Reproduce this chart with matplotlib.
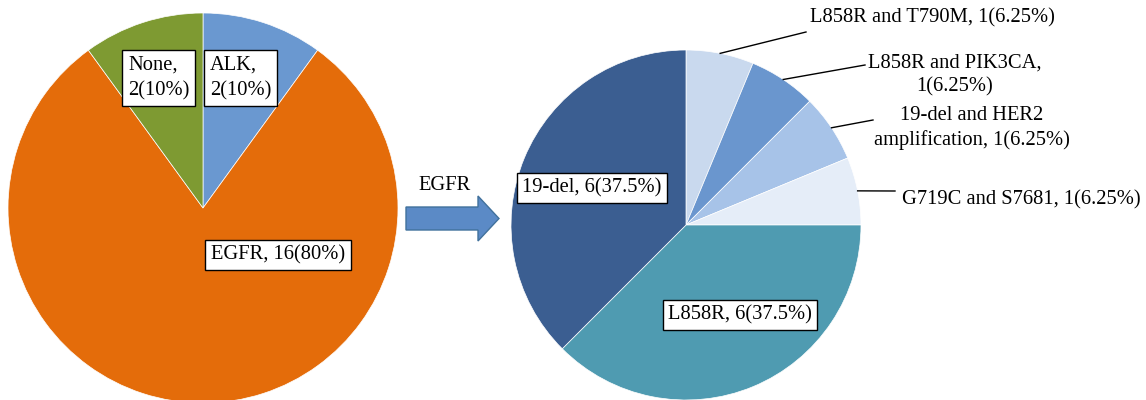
import matplotlib
matplotlib.use("Agg")
import numpy as np
import matplotlib.pyplot as plt
from matplotlib.patches import FancyArrow

# Overall mutation split
main_labels = ["ALK", "EGFR", "None"]
main_counts = [2, 16, 2]
main_colors = ["#6A98D0", "#E46C0A", "#7E9A32"]

# Breakdown of the EGFR group
egfr_labels = ["L858R and T790M", "L858R and PIK3CA", "19-del and HER2\namplification",
               "G719C and S7681", "L858R", "19-del"]
egfr_counts = [1, 1, 1, 1, 6, 6]
egfr_colors = ["#C9D9EE", "#6A96CE", "#A7C3E8", "#E5EDF8", "#4F9BB1", "#3B5E91"]

W, H = 1146, 400
FONT = "Liberation Serif"
FS = 14.8

fig = plt.figure(figsize=(W / 100, H / 100), dpi=100)
ax = fig.add_axes([0, 0, 1, 1])


def py(y):
    """Convert a top-down pixel row into the bottom-up axis coordinate."""
    return H - y


def pct(n, total):
    p = 100.0 * n / total
    return f"{p:g}%"


def draw_pie(counts, colors, center, radius):
    wedges, _ = ax.pie(counts, colors=colors, startangle=90, counterclock=False,
                       center=center, radius=radius,
                       wedgeprops=dict(edgecolor="white", linewidth=0.5))
    return wedges


box = dict(boxstyle="square,pad=0.27", facecolor="white", edgecolor="black", linewidth=1.0)

# Left pie
lc, lr = (203, py(208)), 195
draw_pie(main_counts, main_colors, lc, lr)
main_total = sum(main_counts)
main_layout = [  # (x, y, text template)
    (210, 78, "{name},\n{n}({p})"),
    (278, 255, "{name}, {n}({p})"),
    (128, 78, "{name},\n{n}({p})"),
]
for (name, n), (x, y, tmpl) in zip(zip(main_labels, main_counts), main_layout):
    txt = tmpl.format(name=name, n=n, p=pct(n, main_total))
    ha = "left" if "\n" in txt else "center"
    ax.text(x, py(y), txt, ha=ha, va="center", fontsize=FS, family=FONT,
            bbox=box, linespacing=1.5, zorder=5)

# Arrow between the pies
ax.add_patch(FancyArrow(406, py(218.5), 93, 0, width=23, head_width=45, head_length=21,
                        length_includes_head=True, facecolor="#5B8AC6",
                        edgecolor="#41719C", linewidth=1.0, zorder=4))
ax.text(445, py(185), "EGFR", ha="center", va="center", fontsize=FS, family=FONT)

# Right pie
rc, rr = (686, py(225)), 175
wedges = draw_pie(egfr_counts, egfr_colors, rc, rr)
egfr_total = sum(egfr_counts)

# Small slices: labels outside with leader lines
outer_layout = [  # (line end x, line end y, text x, text y, ha)
    (806, 32, 810, 18, "left"),
    (865, 65, 955, 75, "center"),
    (873, 120, 972, 128, "center"),
    (895, 191, 902, 200, "left"),
]
for i, (ex, ey, tx, ty, ha) in enumerate(outer_layout):
    w = wedges[i]
    mid = np.deg2rad((w.theta1 + w.theta2) / 2)
    sx = rc[0] + rr * np.cos(mid)
    sy = rc[1] + rr * np.sin(mid)
    ax.plot([sx, ex], [sy, py(ey)], color="black", linewidth=1.0, zorder=3)
    name = egfr_labels[i]
    n = egfr_counts[i]
    if i == 1:
        txt = f"{name},\n{n}({pct(n, egfr_total)})"
    else:
        txt = f"{name}, {n}({pct(n, egfr_total)})"
    ax.text(tx, py(ty), txt, ha=ha, va="center", multialignment="center",
            fontsize=FS, family=FONT, linespacing=1.38)

# Large slices: boxed labels inside
inner_layout = [(740, 315), (592, 188)]
for i, (x, y) in zip([4, 5], inner_layout):
    n = egfr_counts[i]
    ax.text(x, py(y), f"{egfr_labels[i]}, {n}({pct(n, egfr_total)})", ha="center",
            va="center", fontsize=FS, family=FONT, bbox=box, zorder=5)

ax.set_xlim(0, W)
ax.set_ylim(0, H)
ax.set_aspect("equal")
ax.axis("off")
fig.savefig("out.png", dpi=100)
